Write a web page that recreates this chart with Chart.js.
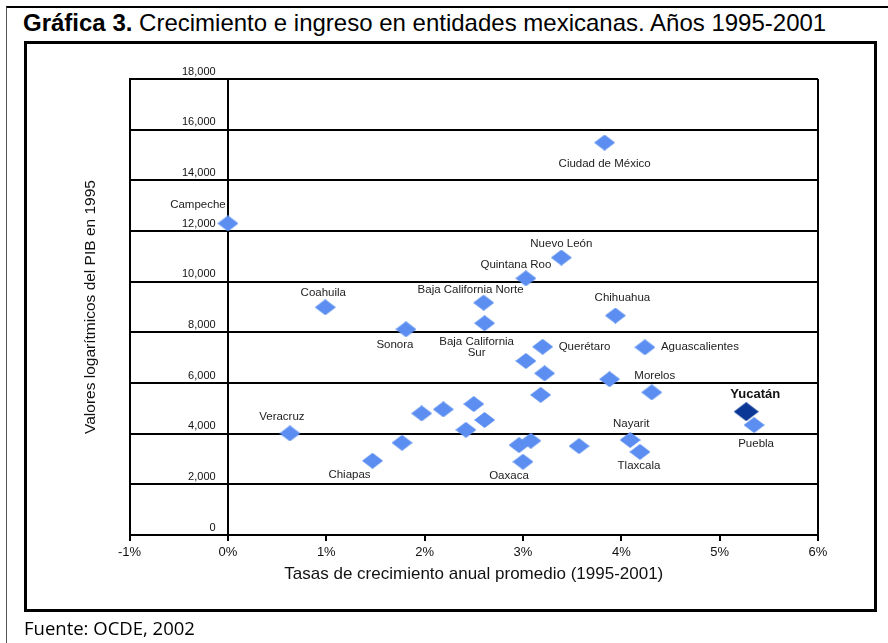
<!DOCTYPE html>
<html><head><meta charset="utf-8">
<script src="https://cdn.jsdelivr.net/npm/chart.js@4.4.0/dist/chart.umd.min.js"></script>
<style>
html,body{margin:0;padding:0;background:#fff;}
#page{position:relative;width:888px;height:643px;overflow:hidden;background:#fff;font-family:'Liberation Sans',Arial,sans-serif;}
#outer{position:absolute;left:6px;top:6px;right:0;bottom:0;border-top:2px solid #000;border-left:1px solid #555;}
#title{position:absolute;left:23px;top:9px;font-size:24px;line-height:27px;color:#000;white-space:nowrap;}
#box{position:absolute;left:24px;top:41px;width:853px;height:571px;box-sizing:border-box;border:3px solid #000;}
#src{position:absolute;left:24px;top:616px;font-family:'Open Sans',sans-serif;font-size:18.5px;line-height:24px;color:#000;}
canvas{position:absolute;left:0;top:0;}
</style></head>
<body><div id="page">
<div id="outer"></div>
<div id="title"><b>Gráfica 3.</b> Crecimiento e ingreso en entidades mexicanas. Años 1995-2001</div>
<div id="box"></div>
<canvas id="c" width="888" height="643"></canvas>
<div id="src">Fuente: OCDE, 2002</div>
</div>
<script>
// ---- data ----
const states = ['Campeche','Ciudad de México','Nuevo León','Quintana Roo','Baja California Norte',
  'Baja California Sur','Chihuahua','Sonora','Querétaro','Aguascalientes','Coahuila','Morelos',
  'Yucatán','Puebla','Nayarit','Tlaxcala','Oaxaca','Veracruz','Chiapas',
  '','','','','','','','','','','','',''];
const growth = [0.00,3.83,3.39,3.03,2.60,2.61,3.94,1.81,3.20,4.24,0.99,4.31,
  5.27,5.35,4.09,4.19,3.00,0.63,1.47,
  3.03,3.22,3.88,3.18,2.19,2.50,2.61,2.42,2.96,3.08,3.57,1.77,1.97];
const gdp = [12300,15490,10950,10130,9170,8360,8660,8120,7430,7410,8990,5630,
  4870,4340,3750,3280,2890,4010,2930,
  6870,6380,6150,5530,4960,5170,4540,4150,3550,3720,3510,3640,4800];
const highlighted = 'Yucatán';
const xMin = -1, xMax = 6, xStep = 1;
const yMin = 0, yMax = 18000, yStep = 2000;
const xTitle = 'Tasas de crecimiento anual promedio (1995-2001)';
const yTitle = 'Valores logarítmicos del PIB en 1995';

// ---- label placement (style only) ----
const labelPos = {
  'Campeche':[-30,-19], 'Ciudad de México':[0,21], 'Nuevo León':[0,-14], 'Quintana Roo':[-10,-14],
  'Baja California Norte':[-13,-13], 'Baja California Sur':[-8,19], 'Chihuahua':[7,-18],
  'Sonora':[-11,16], 'Querétaro':[16,0,'left'], 'Aguascalientes':[16,0,'left'], 'Coahuila':[-2,-14],
  'Morelos':[3,-17], 'Yucatán':[9,-17], 'Puebla':[2,19], 'Nayarit':[1,-16], 'Tlaxcala':[-1,14],
  'Oaxaca':[-14,14], 'Veracruz':[-8,-17], 'Chiapas':[-23,14]
};
const labelLines = {'Baja California Sur':['Baja California','Sur']};
const yLabelGap = 0.125; // gap (in x units) between y tick labels and the 0% line

function diamond(w,h,color){
  const c=document.createElement('canvas'); c.width=w; c.height=h;
  const g=c.getContext('2d'); g.fillStyle=color; g.beginPath();
  g.moveTo(w/2,0); g.lineTo(w,h/2); g.lineTo(w/2,h); g.lineTo(0,h/2); g.closePath(); g.fill();
  return c;
}
const lightD = diamond(21,16,'#5b8ef0');
const darkD = diamond(25,19,'#0b3896');

const FONT = "'Liberation Sans', Arial, sans-serif";
Chart.defaults.font.family = FONT;

const labelPlugin = {
  id:'pointLabels',
  afterDatasetsDraw(chart){
    const ctx=chart.ctx; const meta=chart.getDatasetMeta(0);
    ctx.save();
    meta.data.forEach((pt,i)=>{
      const name=states[i]; if(!name) return;
      const p=labelPos[name]||[0,-14];
      const bold = name===highlighted;
      ctx.font=(bold?'bold 13px ':'11.5px ')+FONT;
      ctx.fillStyle=bold?'#111':'#222';
      ctx.textAlign=p[2]||'center'; ctx.textBaseline='middle';
      const lines=labelLines[name]||[name];
      lines.forEach((t,k)=>ctx.fillText(t, pt.x+p[0], pt.y+p[1]+k*11));
    });
    ctx.restore();
  }
};

new Chart(document.getElementById('c'), {
  type:'scatter',
  data:{datasets:[{
    data: states.map((s,i)=>({x:growth[i], y:gdp[i]})),
    pointStyle: c => (c.dataIndex!==undefined && states[c.dataIndex]===highlighted) ? darkD : lightD,
    pointRadius:10, pointHoverRadius:10
  }]},
  options:{
    responsive:false, animation:false, events:[],
    layout:{padding:{left:77,right:70,top:79,bottom:50}},
    plugins:{legend:{display:false}, tooltip:{enabled:false}},
    scales:{
      x:{type:'linear', min:xMin, max:xMax,
        ticks:{stepSize:xStep, callback:v=>v+'%', color:'#111', font:{size:13}, padding:4},
        grid:{color:c=>(c.tick && (c.tick.value===0 || c.tick.value===xMax))?'#000':'rgba(0,0,0,0)',
              tickColor:'#000', lineWidth:2, tickLength:6, drawOnChartArea:true},
        border:{display:true, color:'#000', width:2},
        title:{display:true, text:xTitle, color:'#111', font:{size:17}, padding:{top:0,bottom:8}}},
      y:{type:'linear', position:'left', min:yMin, max:yMax,
        ticks:{display:false, stepSize:yStep},
        grid:{display:false, drawTicks:false},
        border:{display:true, color:'#000', width:2},
        title:{display:true, text:yTitle, color:'#111', font:{size:15.5}, padding:{top:4,bottom:30}}},
      yInner:{type:'linear', axis:'y', position:{x:-yLabelGap}, min:yMin, max:yMax,
        ticks:{stepSize:yStep, callback:v=>v.toLocaleString('en-US'), align:'end', labelOffset:-2,
               color:'#111', font:{size:11}},
        grid:{color:'#000', lineWidth:2, drawTicks:false},
        border:{display:false}}
    }
  },
  plugins:[labelPlugin]
});
</script>
</body></html>
